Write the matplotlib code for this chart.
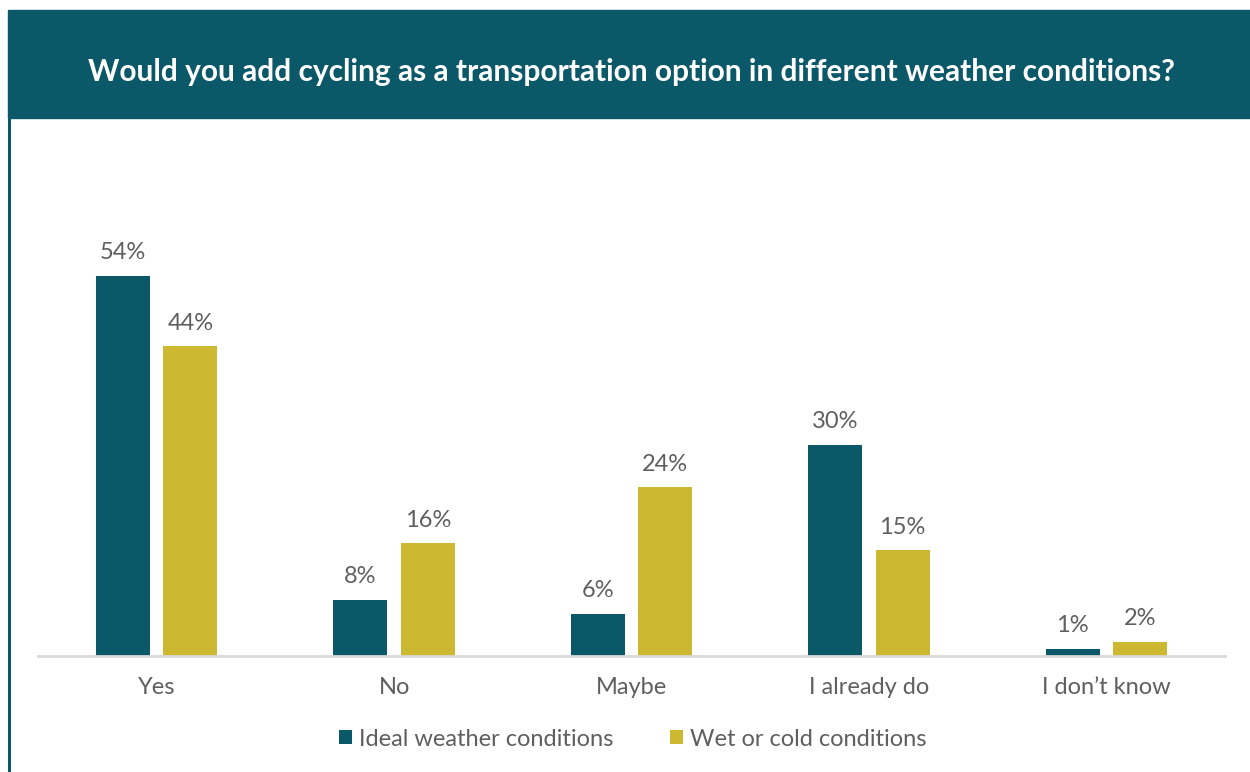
import numpy as np
import matplotlib.pyplot as plt
from matplotlib.patches import Rectangle
from matplotlib.lines import Line2D

categories = ["Yes", "No", "Maybe", "I already do", "I don\u2019t know"]
ideal = [54, 8, 6, 30, 1]
wet_cold = [44, 16, 24, 15, 2]
series_names = ["Ideal weather conditions", "Wet or cold conditions"]

TEAL = "#0B5869"
MUSTARD = "#CDB931"
GREY_TEXT = "#5F5F5F"

plt.rcParams["font.family"] = ["Lato", "DejaVu Sans"]

fig = plt.figure(figsize=(12.5, 7.72), dpi=100)

# header band and frame
fig.patches.append(Rectangle((8 / 1250, 1 - 118 / 772), 1, 108 / 772,
                             transform=fig.transFigure, color=TEAL, zorder=0))
fig.lines.append(Line2D([9 / 1250, 9 / 1250], [0, 1 - 118 / 772],
                        transform=fig.transFigure, color=TEAL, lw=2.2))
fig.text(0.5055, 1 - 72 / 772,
         "Would you add cycling as a transportation option in different weather conditions?",
         color="white", fontsize=21.5, fontweight="bold", ha="center", va="center")

ax = fig.add_axes([38 / 1250, 116 / 772, 1187 / 1250, 516 / 772])
x = np.arange(len(categories))
w = 0.228
off = 0.142
b1 = ax.bar(x - off, ideal, w, color=TEAL, label=series_names[0])
b2 = ax.bar(x + off, wet_cold, w, color=MUSTARD, label=series_names[1])

for bars, vals in ((b1, ideal), (b2, wet_cold)):
    for rect, v in zip(bars, vals):
        ax.annotate(f"{v}%", (rect.get_x() + rect.get_width() / 2, v),
                    xytext=(0, 9), textcoords="offset points",
                    ha="center", va="bottom", fontsize=17,
                    color=GREY_TEXT)

ax.set_xlim(-0.5, 4.5)
ax.set_ylim(0, 73.3)
ax.set_xticks(x)
ax.set_xticklabels(categories, fontsize=17, color=GREY_TEXT)
ax.tick_params(axis="x", length=0, pad=15)
ax.set_yticks([])
for s in ("top", "right", "left"):
    ax.spines[s].set_visible(False)
ax.spines["bottom"].set_color("#D9D9D9")
ax.spines["bottom"].set_linewidth(2)

leg = fig.legend(handles=[b1, b2], labels=series_names, loc="center",
                 bbox_to_anchor=(0.5065, 1 - 739 / 772), ncol=2, frameon=False,
                 fontsize=17, handlelength=0.55, handleheight=0.55,
                 handletextpad=0.3, columnspacing=2.4)
for t in leg.get_texts():
    t.set_color(GREY_TEXT)

fig.savefig("out.png", dpi=100)
